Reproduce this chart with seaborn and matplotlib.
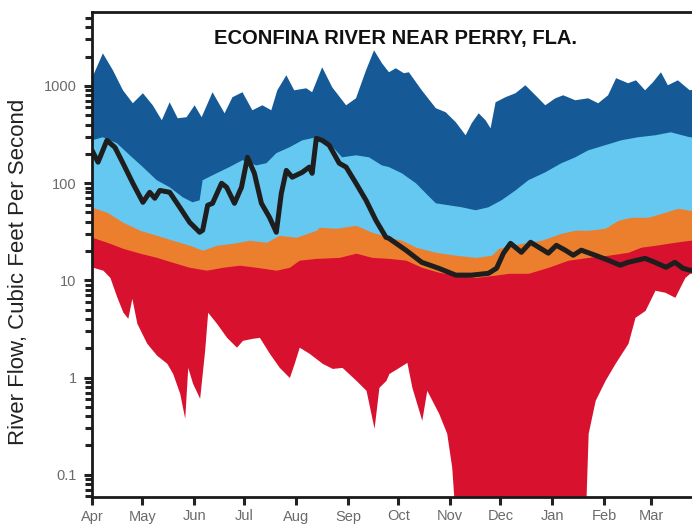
import matplotlib
matplotlib.use("Agg")
import matplotlib.pyplot as plt
import seaborn as sns
from matplotlib.ticker import FixedLocator, LogLocator, NullFormatter

# Daily flow statistics, Econfina River near Perry, Fla.
# x = day of the water year (day 0 = April 1), values in cubic feet per second

max_day = [0, 6.5, 12.5, 18.5, 24.4, 30.4, 36.3, 41.7, 46.4, 51.2, 56.5, 61.3, 65.5, 72, 79.2,
           83.9, 89.9, 95.8, 101.8, 107.1, 110.7, 116.1, 120.8, 128, 131.5, 137.5, 143.5,
           151.8, 157.7, 163.7, 168.5, 173.2, 177.4, 181.5, 186.3, 189.3, 197, 205.4, 211.3,
           217.3, 223.2, 226.8, 231, 235.1, 238.1, 241.1, 247, 253, 258.9, 264.9, 270.8,
           276.8, 281.5, 288.7, 296.4, 302.4, 308.3, 313.1, 320.2, 325, 330.4, 335.1, 339.9,
           344, 350, 357.1, 365]
max_flow = [1200, 2160, 1445, 900, 662, 840, 631, 443, 678, 464, 476, 631, 476, 860, 522,
            764, 860, 561, 631, 561, 900, 1286, 900, 944, 860, 1553, 967,
            631, 745, 1445, 2320, 1710, 1380, 1517, 1349, 1380, 900, 589, 535,
            423, 310, 412, 522, 443, 366, 678, 764, 840, 1014, 800, 631,
            745, 800, 711, 745, 662, 800, 1200, 1064, 1140, 900, 1089, 1380,
            1014, 1140, 900, 950]

p75_day = [0, 6.5, 14.9, 22.6, 30.4, 38.7, 46.4, 54.2, 60.1, 64.3, 66.1, 74.4, 82.1, 89.9,
           98.2, 104.2, 110.1, 117.9, 125.6, 134, 141.7, 149.4, 157.7, 165.5, 173.2, 177.4,
           185.1, 193.5, 199.4, 205.4, 213.1, 220.8, 229.2, 236.9, 244.6, 253, 260.7, 270.8,
           280.4, 288.7, 296.4, 306.5, 316.1, 326.2, 336.3, 345.8, 357.1, 365]
p75_flow = [275, 296, 257, 193, 146, 107, 90.6, 71.4, 63.4, 66.5, 107, 126, 146, 172,
            152, 160, 203, 233, 275, 296, 257, 184, 193, 184, 152, 146,
            126, 99.6, 78.5, 61.9, 59.1, 56.4, 52.5, 56.4, 66.5, 84, 107, 129,
            160, 184, 217, 245, 275, 296, 310, 333, 296, 300]

p25_day = [0, 8.9, 18.5, 28.6, 38.7, 48.2, 58.3, 66.1, 74.4, 83.9, 94.1, 104.2, 111.9, 122,
           134, 135.7, 145.8, 157.7, 167.3, 177.4, 185.1, 193.5, 205.4, 217.3, 229.2, 238.7,
           242.9, 256.5, 268.5, 280.4, 288.7, 296.4, 306.5, 314.3, 322.1, 332.2, 342.3, 350,
           357.1, 365]
p25_flow = [56.4, 50.1, 39.5, 32.7, 29.0, 25.8, 22.9, 20.4, 22.9, 24.0, 25.8, 24.6, 29.0, 27.7,
            32.7, 35.1, 34.3, 36.8, 31.2, 27.7, 25.8, 21.9, 19.4, 18.1, 17.2, 18.1,
            21.3, 24.0, 25.8, 30.5, 32.7, 32.7, 34.3, 41.4, 44.5, 44.5, 50.1, 55.1,
            52.5, 53]

p10_day = [0, 8.9, 18.5, 28.6, 38.7, 48.2, 58.3, 68.5, 78, 88.1, 98.2, 110.1, 117.9, 123.8,
           134, 147.7, 157.7, 167.3, 177.4, 187.5, 197, 207.1, 217.3, 229.2, 241.1, 248.8,
           260.7, 272.6, 284.5, 296.4, 308.3, 320.2, 328, 336.3, 348.2, 357.1, 365]
p10_flow = [27.7, 24.6, 21.3, 19.0, 17.2, 15.3, 13.6, 12.7, 13.6, 14.3, 13.6, 12.7, 13.6, 16.1,
            16.8, 17.2, 19.0, 17.2, 16.8, 16.1, 13.6, 12.1, 11.3, 10.7, 11.3, 11.8,
            11.8, 13.6, 16.1, 17.2, 18.1, 19.4, 21.9, 22.9, 24.6, 25.8, 26]

min_day = [0, 0.6, 6.5, 10.7, 14.9, 18.5, 21.4, 23.8, 26.8, 32.7, 38.7, 44.7, 48.2, 52.4,
           55.4, 57.2, 60.1, 64.3, 67.3, 69.1, 74.4, 80.4, 86.3, 89.9, 95.8, 100, 106,
           111.9, 117.9, 120.8, 123.8, 129.8, 137.5, 143.5, 149.4, 157.7, 163.7, 168.5,
           171.4, 175.6, 177.4, 183.3, 188.1, 191.1, 197, 200, 207.1, 211.9, 214.9, 217.3,
           294.6, 296.4, 300.6, 306.5, 312.5, 320.2, 324.4, 330.4, 336.3, 342.3, 348.2,
           351.2, 354.2, 357.1, 365]
min_flow = [14.3, 13.6, 12.7, 10.7, 6.68, 4.69, 4.06, 6.53, 3.61, 2.25, 1.69, 1.40, 1.10, 0.687,
            0.380, 1.27, 0.871, 0.611, 1.91, 4.69, 3.61, 2.59, 2.05, 2.41, 2.53, 2.59, 1.77,
            1.27, 1.0, 1.40, 2.05, 1.77, 1.40, 1.24, 1.27, 0.935, 0.738, 0.30,
            0.792, 0.935, 1.10, 1.27, 1.43, 0.792, 0.363, 0.738, 0.428, 0.267, 0.119, 0.03,
            0.03, 0.267, 0.582, 0.935, 1.40, 2.25, 4.16, 4.9, 7.9, 7.53, 6.68,
            8.47, 10.7, 11.8, 12]

cur_day = [0, 3.6, 8.9, 13.7, 18.5, 24.4, 30.4, 34.5, 37.5, 40.5, 46.4, 52.4, 58.3, 64.3,
           66.1, 69.1, 72, 77.4, 80.4, 85.1, 89.3, 92.9, 97, 101.2, 106, 110.1, 113.1,
           116.1, 119.6, 125.6, 129.8, 131.5, 134, 137.5, 141.7, 147.7, 151.8, 157.7,
           163.7, 169.6, 175.6, 177.4, 187.5, 197, 207.1, 217.3, 226.8, 236.9, 241.7,
           245.8, 250, 256.5, 262, 267.9, 272.6, 277.4, 282.7, 287.5, 292.3, 300.6,
           308.3, 315.5, 320.2, 330.4, 336.3, 342.9, 348.2, 353, 357.1, 365]
cur_flow = [217, 164, 275, 233, 160, 99.6, 63.4, 80.4, 69.8, 84, 80.4, 56.4, 39.5, 31.2,
            32.7, 59.1, 61.9, 99.6, 90.6, 61.9, 90.6, 184, 126, 61.9, 44.5, 31.2, 78.5,
            135, 115, 129, 146, 126, 289, 275, 245, 160, 146, 99.6,
            66.5, 41.4, 27.7, 27.0, 20.4, 15.3, 13.3, 11.3, 11.3, 11.8, 13.3,
            19.0, 24.0, 19.4, 24.6, 21.3, 19.0, 22.9, 20.4, 18.1, 20.4, 18.1,
            16.1, 14.3, 15.3, 16.8, 15.3, 13.6, 15.3, 13.3, 12.7, 12.5]

month_starts = [0, 30, 61, 91, 122, 153, 183, 214, 244, 275, 306, 334]
month_labels = ["Apr", "May", "Jun", "Jul", "Aug", "Sep", "Oct", "Nov", "Dec", "Jan", "Feb", "Mar"]
flow_ticks = [0.1, 1, 10, 100, 1000]
flow_tick_labels = ["0.1", "1", "10", "100", "1000"]

DARK_BLUE = "#155a97"
LIGHT_BLUE = "#64c8f0"
ORANGE = "#ec7f2e"
RED = "#d8112e"

sns.set_style("ticks")
plt.rcParams["font.family"] = ["Liberation Sans", "DejaVu Sans"]

fig = plt.figure(figsize=(6.92, 5.27), dpi=100)
ax = fig.add_axes([92 / 692, 30 / 527, 611 / 692, 485 / 527])
ax.set_yscale("log")

# Stack the percentile bands from the top down; white masks below the daily minimum
floor = 1e-3
ax.fill_between(max_day, max_flow, floor, color=DARK_BLUE, lw=0)
ax.fill_between(p75_day, p75_flow, floor, color=LIGHT_BLUE, lw=0)
ax.fill_between(p25_day, p25_flow, floor, color=ORANGE, lw=0)
ax.fill_between(p10_day, p10_flow, floor, color=RED, lw=0)
ax.fill_between(min_day, min_flow, floor, color="white", lw=0)

# Current-year flow
sns.lineplot(x=cur_day, y=cur_flow, color="#1e1e1e", lw=3.6, ax=ax)

ax.set_xlim(0, 365)
ax.set_ylim(0.059, 5750)

ax.xaxis.set_major_locator(FixedLocator(month_starts))
ax.set_xticklabels(month_labels)
ax.yaxis.set_major_locator(FixedLocator(flow_ticks))
ax.set_yticklabels(flow_tick_labels)
ax.yaxis.set_minor_locator(LogLocator(base=10, subs=range(2, 10), numticks=20))
ax.yaxis.set_minor_formatter(NullFormatter())

ax.tick_params(axis="y", which="major", direction="out", length=6, width=2.2,
               color="#222222", labelcolor="#6a6a6a", labelsize=10.5, pad=5)
ax.tick_params(axis="y", which="minor", direction="out", length=5, width=2.2, color="#222222")
ax.tick_params(axis="x", which="major", direction="out", length=6, width=2.2,
               color="#222222", labelcolor="#6a6a6a", labelsize=10.5, pad=3)

for side in ["left", "bottom", "top"]:
    ax.spines[side].set_linewidth(2.0)
    ax.spines[side].set_color("#1a1a1a")
ax.spines["right"].set_visible(False)

ax.text(0.496, 0.946, "ECONFINA RIVER NEAR PERRY, FLA.", transform=ax.transAxes,
        ha="center", va="center", fontsize=14.5, fontweight="bold", color="#111111")

fig.text(19 / 692, 1 - 272 / 527, "River Flow, Cubic Feet Per Second", rotation=90,
         ha="center", va="center", fontsize=16, color="#222222")

ax.set_xlabel("")
ax.set_ylabel("")

fig.savefig("out.png", dpi=100)
